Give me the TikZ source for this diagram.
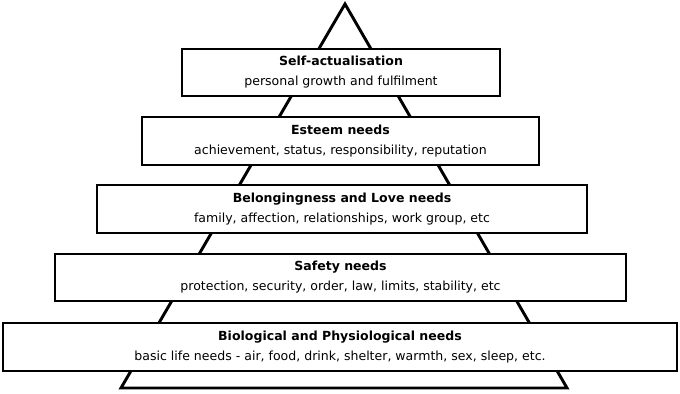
\documentclass[tikz,border=0pt]{standalone}
\usepackage{fontspec}
\setmainfont{DejaVu Sans}
\usepackage{tikz}

\begin{document}
\begin{tikzpicture}[x=0.75pt,y=-0.75pt]
\tikzstyle{every node}+=[inner sep=0pt]
\tikzstyle{level}=[draw=black,line width=1.5pt,fill=white,align=center,font=\fontsize{9.4}{15}\selectfont]
\useasboundingbox (0,0) rectangle (680,393);
% pyramid outline
\coordinate (apex) at (345,4);
\coordinate (bl) at (121,388);
\coordinate (br) at (567,388);
\draw [black,line width=2.2pt,line join=miter] (bl) -- (apex) -- (br) -- cycle;
% levels, top to bottom
\node [level,minimum width=318*0.75pt,minimum height=47*0.75pt] (self) at (341,72.5)
  {\textbf{Self-actualisation}\\personal growth and fulfilment};
\node [level,minimum width=397*0.75pt,minimum height=48*0.75pt] (esteem) at (340.5,141)
  {\textbf{Esteem needs}\\achievement, status, responsibility, reputation};
\node [level,minimum width=490*0.75pt,minimum height=48*0.75pt] (love) at (342,209)
  {\textbf{Belongingness and Love needs}\\family, affection, relationships, work group, etc};
\node [level,minimum width=571*0.75pt,minimum height=47*0.75pt] (safety) at (340.5,277.5)
  {\textbf{Safety needs}\\protection, security, order, law, limits, stability, etc};
\node [level,minimum width=674*0.75pt,minimum height=48*0.75pt] (bio) at (340,347)
  {\textbf{Biological and Physiological needs}\\basic life needs - air, food, drink, shelter, warmth, sex, sleep, etc.};
\end{tikzpicture}
\end{document}
